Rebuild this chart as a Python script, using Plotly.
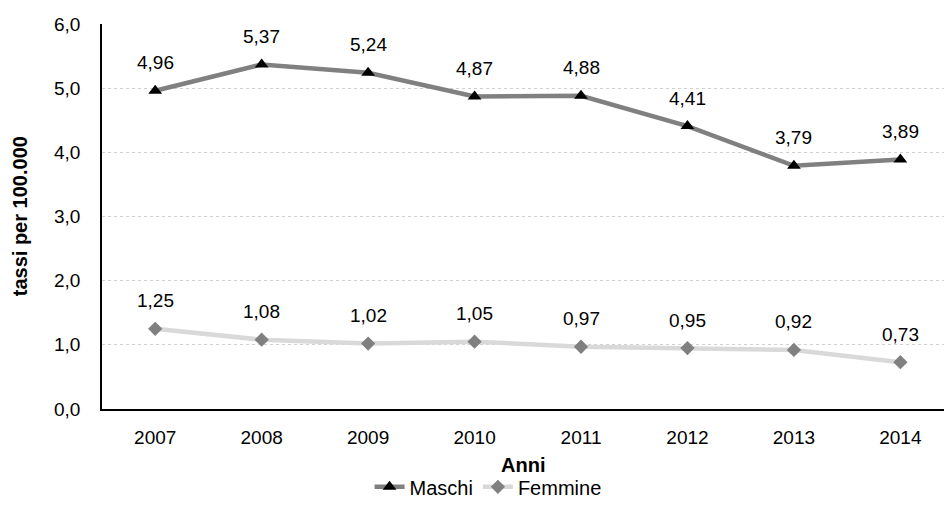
import plotly.graph_objects as go

anni = ["2007", "2008", "2009", "2010", "2011", "2012", "2013", "2014"]
maschi = [4.96, 5.37, 5.24, 4.87, 4.88, 4.41, 3.79, 3.89]
femmine = [1.25, 1.08, 1.02, 1.05, 0.97, 0.95, 0.92, 0.73]
y_ticks = [0, 1, 2, 3, 4, 5, 6]


def fmt(v, dec):
    return f"{v:.{dec}f}".replace(".", ",")


FONT = "Liberation Sans, Arial, sans-serif"
x_idx = list(range(len(anni)))

fig = go.Figure()

fig.add_trace(go.Scatter(
    x=x_idx, y=maschi, name="Maschi",
    mode="lines+markers",
    line=dict(color="#808080", width=4.5),
    marker=dict(symbol="triangle-up", size=12, color="black"),
))

fig.add_trace(go.Scatter(
    x=x_idx, y=femmine, name="Femmine",
    mode="lines+markers",
    line=dict(color="#d9d9d9", width=4.5),
    marker=dict(symbol="diamond", size=11, color="#808080"),
))

# etichette dati sopra i punti
for serie in (maschi, femmine):
    for xi, v in zip(x_idx, serie):
        fig.add_annotation(
            x=xi, y=v, text=fmt(v, 2), showarrow=False,
            yshift=28, font=dict(size=19, color="black", family=FONT),
        )

# titoli degli assi
fig.add_annotation(
    text="<b>Anni</b>", showarrow=False,
    xref="paper", x=0.5, xanchor="center",
    yref="paper", y=-0.145, yanchor="middle",
    font=dict(size=20, color="black", family=FONT),
)
fig.add_annotation(
    text="<b>tassi per 100.000</b>", showarrow=False, textangle=-90,
    xref="paper", x=-0.0977, xanchor="center",
    yref="paper", y=0.5, yanchor="middle",
    font=dict(size=20, color="black", family=FONT),
)

fig.update_layout(
    width=944, height=519,
    margin=dict(l=102, r=0, t=24, b=110),
    plot_bgcolor="white", paper_bgcolor="white",
    font=dict(family=FONT, size=19, color="black"),
    showlegend=True,
    legend=dict(
        orientation="h", xref="container", x=0.517, xanchor="center",
        yref="container", y=0.062, yanchor="middle",
        font=dict(size=20), traceorder="normal",
    ),
    xaxis=dict(
        tickmode="array", tickvals=x_idx, ticktext=anni,
        range=[-0.5, 7.41], automargin=False,
        showline=True, linecolor="black", linewidth=1.5,
        showgrid=False, zeroline=False, ticks="",
        tickfont=dict(size=19), ticklabelstandoff=10,
    ),
    yaxis=dict(
        range=[0, 6], tickvals=y_ticks, automargin=False,
        ticktext=[fmt(v, 1) for v in y_ticks],
        showline=True, linecolor="black", linewidth=1.5,
        showgrid=True, gridcolor="#d0d0d0", griddash="dot", gridwidth=1,
        zeroline=False, ticks="",
        tickfont=dict(size=19), ticklabelstandoff=16,
    ),
)

fig.write_html("out.html", config={"displayModeBar": False},
               post_script="document.body.style.margin='0';")
